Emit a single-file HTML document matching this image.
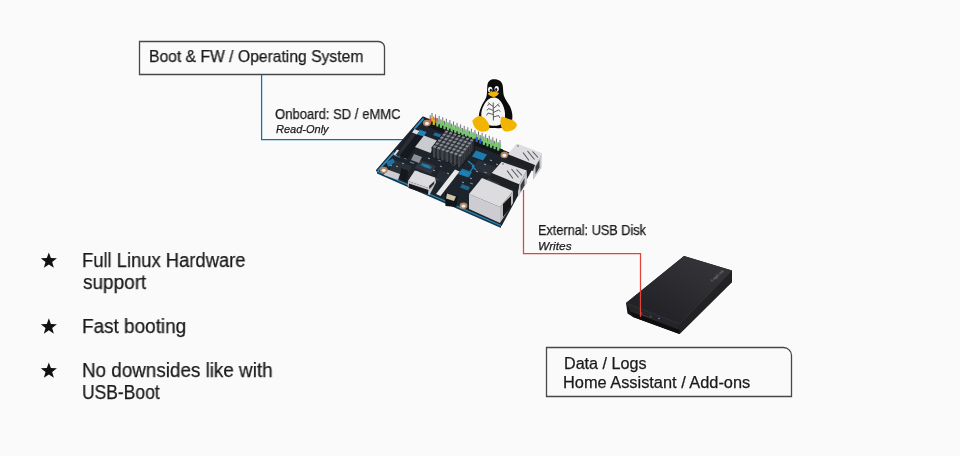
<!DOCTYPE html>
<html><head><meta charset="utf-8">
<style>
html,body{margin:0;padding:0;}
body{width:960px;height:456px;background:#fafafa;position:relative;overflow:hidden;font-family:"Liberation Sans",sans-serif;color:#1a1a1a;}
.t{position:absolute;white-space:nowrap;line-height:1;transform-origin:0 0;will-change:transform;-webkit-text-stroke:0.25px #1a1a1a;}
svg.ov{position:absolute;left:0;top:0;}
</style></head><body>
<svg class="ov" width="960" height="456" viewBox="0 0 960 456">
  <path d="M139.5 41.5 H378.5 A6 6 0 0 1 384.5 47.5 V74.5 H139.5 Z" fill="none" stroke="#474747" stroke-width="1.3"/>
  <path d="M546.5 347.5 H783.5 A8 8 0 0 1 791.5 355.5 V396.5 H546.5 Z" fill="none" stroke="#474747" stroke-width="1.3"/>
  <path d="M261.6 74.5 V139.5 H405.5" fill="none" stroke="#0b6fbd" stroke-width="1.25"/>
  
<g id="board">
  <!-- pcb thickness -->
  <polygon points="377,170.5 501,225 501,228 377,173.5" fill="#16384e"/>
  <!-- pcb top -->
  <polygon points="423,117.5 534,164 501,225 377,170.5" fill="#1e242b" stroke="#1e242b" stroke-width="2" stroke-linejoin="round"/>
  <polygon points="423,117.5 413.5,128.5 415,129.5 424,119.5" fill="#2a8cc0"/>
  <polygon points="393.5,152 377,170.5 378.5,171.2 395,153" fill="#2a8cc0"/>
  <polygon points="377,170.5 501,225 501,226.3 377,171.8" fill="#2a8cc0"/>
  <!-- textures -->
  <polygon points="395,160 412,166 406,176 389,170" fill="#2a3038"/>
  <polygon points="420,160 436,166 431,174 415,168" fill="#30363e"/>
  <polygon points="440,170 456,176 450,186 434,180" fill="#262c33"/>
  <polygon points="478,160 496,167 490,176 472,169" fill="#2b3038"/>
  <polygon points="488,178 500,183 496,190 484,185" fill="#353a42"/>
  <!-- blue trace patches -->
  <polygon points="419,129.5 426.5,132 424,136.5 417.5,134.5" fill="#1f84bb"/>
  <polygon points="435,132.5 442.5,135 440,137.5 433,135" fill="#1f84bb" opacity="0.8"/>
  <polygon points="476,150.5 487,154.5 483,160.5 472,156.5" fill="#1f84bb" opacity="0.9"/>
  <path d="M468,161 L474,166 L470,172 M472,166 L476,170" stroke="#1f84bb" stroke-width="1.3" fill="none"/>
  <polygon points="461,170 470,173 467,177 458,174" fill="#1f84bb" opacity="0.8"/>
  <polygon points="425,164.5 432,167 430,169 423,166.5" fill="#1f84bb" opacity="0.8"/>
    <path d="M404,158 l3,1 M410,162 l4,1.5 M416,171 l3,1 M438,160 l3,1 M452,164 l3,1.2 M484,172 l3,1 M480,180 l3,1 M470,183 l3,1" stroke="#7a8088" stroke-width="1.2"/>
  <path d="M390,165 l2,0.8 M396,166 l2,0.8 M402,163 l2,0.8 M428,158 l2,.8 M433,170 l2,.8 M440,166 l2,.8 M447,173 l2,.8 M452,178 l2,.8 M462,182 l2,.8 M470,178 l2,.8 M476,171 l2,.8 M484,164 l2,.8 M490,160 l2,.8 M496,164 l2,.8 M458,166 l2,.8" stroke="#a0a4aa" stroke-width="1"/>
  <path d="M421,178 l14,5 M425,175 l14,5 M420,181.5 l13,5" stroke="#3a3f47" stroke-width="1.5"/>
  <polygon points="386,162 393,158.5 395,162 388.5,167" fill="#1f84bb" opacity="0.85"/>
  
  <polygon points="422,163 430,165.5 428.5,168 421,165.5" fill="#1f84bb" opacity="0.8"/>
  <polygon points="462,168.5 472,172 469,177.5 459.5,174" fill="#1f84bb" opacity="0.8"/>
  <polygon points="462,184 470,187 468,190.5 460,187.5" fill="#1f84bb" opacity="0.7"/>
  <polygon points="395,153 401,155.5 399.5,158 393.5,155.5" fill="#1f84bb" opacity="0.7"/>
  <!-- SD / left connector -->
  <polygon points="415,128.5 426.5,133.5 407,159 395.5,154" fill="#15181c"/>
  <polygon points="414.5,129 419.5,131 417,134.5 412,132.5" fill="#dcdde0"/>
  <polygon points="397,149.5 400.5,151 397,156 393.5,154.5" fill="#e2e2e4"/>
  <polygon points="412,133 416,134.5 399,156.5 395.5,155" fill="#2a2e34"/>
  <polygon points="420,130 426.5,132.5 423.5,136.5 417.5,134.5" fill="#1f84bb"/>
  <!-- silver chip -->
  <polygon points="424,135.5 437,140.5 430.5,153 415,147" fill="#cacbcf"/>
  <!-- small chip -->
  <polygon points="414,154 422,157 419,163 411,160" fill="#8e9096"/>
  <!-- micro usb -->
  <polygon points="386,169 400,174 398,180 384,175" fill="#cdcdd1"/>
  <polygon points="401,168 408,170.5 407,182 400,179.5" fill="#14171b"/>
  <!-- HDMI -->
  <polygon points="414.8,170.5 435,177.5 436,182.5 430,188.5 408,181" fill="#dcdce0"/>
  <polygon points="408,181 430,188.5 436,182.5 429.5,195 407.7,186.5" fill="#c9c9cd"/>
  <polygon points="409,183.5 428.5,190 428,194.5 408.5,188" fill="#18181c"/>
  <polygon points="429,186 434.5,181 434,184 429.5,189" fill="#2a2a2e"/>
  <!-- camera strip -->
  <polygon points="455,169.5 459.5,171.5 440.5,196 436,194" fill="#e9e9eb"/>
  <!-- audio jack -->
  <polygon points="445,192.5 457.5,196 456.5,207 445.5,206" fill="#121418"/>
  <polygon points="447,193.5 456,196.5 454,201 446,198.5" fill="#cfc3a8"/>
  <!-- header base -->
  <polygon points="429,120.5 503,149.5 501,155.5 425.5,126" fill="#121519"/>
  <line x1="432.00" y1="113.00" x2="432.00" y2="121.50" stroke="#6f737a" stroke-width="1.0"/>
<rect x="430.90" y="116.50" width="2.2" height="4.8" fill="#e8b020"/>
<line x1="435.58" y1="114.42" x2="435.58" y2="122.92" stroke="#6f737a" stroke-width="1.0"/>
<rect x="434.48" y="117.92" width="2.2" height="4.8" fill="#d83a2a"/>
<line x1="439.16" y1="115.84" x2="439.16" y2="124.34" stroke="#6f737a" stroke-width="1.0"/>
<rect x="438.06" y="119.34" width="2.2" height="4.8" fill="#74c86a"/>
<line x1="442.74" y1="117.26" x2="442.74" y2="125.76" stroke="#6f737a" stroke-width="1.0"/>
<rect x="441.64" y="120.76" width="2.2" height="4.8" fill="#74c86a"/>
<line x1="446.32" y1="118.68" x2="446.32" y2="127.18" stroke="#6f737a" stroke-width="1.0"/>
<rect x="445.22" y="122.18" width="2.2" height="4.8" fill="#74c86a"/>
<line x1="449.89" y1="120.11" x2="449.89" y2="128.61" stroke="#6f737a" stroke-width="1.0"/>
<rect x="448.79" y="123.61" width="2.2" height="4.8" fill="#74c86a"/>
<line x1="453.47" y1="121.53" x2="453.47" y2="130.03" stroke="#6f737a" stroke-width="1.0"/>
<rect x="452.37" y="125.03" width="2.2" height="4.8" fill="#74c86a"/>
<line x1="457.05" y1="122.95" x2="457.05" y2="131.45" stroke="#6f737a" stroke-width="1.0"/>
<rect x="455.95" y="126.45" width="2.2" height="4.8" fill="#74c86a"/>
<line x1="460.63" y1="124.37" x2="460.63" y2="132.87" stroke="#6f737a" stroke-width="1.0"/>
<rect x="459.53" y="127.87" width="2.2" height="4.8" fill="#74c86a"/>
<line x1="464.21" y1="125.79" x2="464.21" y2="134.29" stroke="#6f737a" stroke-width="1.0"/>
<rect x="463.11" y="129.29" width="2.2" height="4.8" fill="#74c86a"/>
<line x1="467.79" y1="127.21" x2="467.79" y2="135.71" stroke="#6f737a" stroke-width="1.0"/>
<rect x="466.69" y="130.71" width="2.2" height="4.8" fill="#74c86a"/>
<line x1="471.37" y1="128.63" x2="471.37" y2="137.13" stroke="#6f737a" stroke-width="1.0"/>
<rect x="470.27" y="132.13" width="2.2" height="4.8" fill="#74c86a"/>
<line x1="474.95" y1="130.05" x2="474.95" y2="138.55" stroke="#6f737a" stroke-width="1.0"/>
<rect x="473.85" y="133.55" width="2.2" height="4.8" fill="#74c86a"/>
<line x1="478.53" y1="131.47" x2="478.53" y2="139.97" stroke="#6f737a" stroke-width="1.0"/>
<rect x="477.43" y="134.97" width="2.2" height="4.8" fill="#74c86a"/>
<line x1="482.11" y1="132.89" x2="482.11" y2="141.39" stroke="#6f737a" stroke-width="1.0"/>
<rect x="481.01" y="136.39" width="2.2" height="4.8" fill="#74c86a"/>
<line x1="485.68" y1="134.32" x2="485.68" y2="142.82" stroke="#6f737a" stroke-width="1.0"/>
<rect x="484.58" y="137.82" width="2.2" height="4.8" fill="#74c86a"/>
<line x1="489.26" y1="135.74" x2="489.26" y2="144.24" stroke="#6f737a" stroke-width="1.0"/>
<rect x="488.16" y="139.24" width="2.2" height="4.8" fill="#74c86a"/>
<line x1="492.84" y1="137.16" x2="492.84" y2="145.66" stroke="#6f737a" stroke-width="1.0"/>
<rect x="491.74" y="140.66" width="2.2" height="4.8" fill="#74c86a"/>
<line x1="496.42" y1="138.58" x2="496.42" y2="147.08" stroke="#6f737a" stroke-width="1.0"/>
<rect x="495.32" y="142.08" width="2.2" height="4.8" fill="#74c86a"/>
<line x1="500.00" y1="140.00" x2="500.00" y2="148.50" stroke="#6f737a" stroke-width="1.0"/>
<rect x="498.90" y="143.50" width="2.2" height="4.8" fill="#74c86a"/>
<line x1="430.20" y1="115.20" x2="430.20" y2="123.70" stroke="#6f737a" stroke-width="1.0"/>
<rect x="429.10" y="118.70" width="2.2" height="4.8" fill="#d83a2a"/>
<line x1="433.78" y1="116.62" x2="433.78" y2="125.12" stroke="#6f737a" stroke-width="1.0"/>
<rect x="432.68" y="120.12" width="2.2" height="4.8" fill="#e8b020"/>
<line x1="437.36" y1="118.04" x2="437.36" y2="126.54" stroke="#6f737a" stroke-width="1.0"/>
<rect x="436.26" y="121.54" width="2.2" height="4.8" fill="#74c86a"/>
<line x1="440.94" y1="119.46" x2="440.94" y2="127.96" stroke="#6f737a" stroke-width="1.0"/>
<rect x="439.84" y="122.96" width="2.2" height="4.8" fill="#74c86a"/>
<line x1="444.52" y1="120.88" x2="444.52" y2="129.38" stroke="#6f737a" stroke-width="1.0"/>
<rect x="443.42" y="124.38" width="2.2" height="4.8" fill="#74c86a"/>
<line x1="448.09" y1="122.31" x2="448.09" y2="130.81" stroke="#6f737a" stroke-width="1.0"/>
<rect x="446.99" y="125.81" width="2.2" height="4.8" fill="#74c86a"/>
<line x1="451.67" y1="123.73" x2="451.67" y2="132.23" stroke="#6f737a" stroke-width="1.0"/>
<rect x="450.57" y="127.23" width="2.2" height="4.8" fill="#74c86a"/>
<line x1="455.25" y1="125.15" x2="455.25" y2="133.65" stroke="#6f737a" stroke-width="1.0"/>
<rect x="454.15" y="128.65" width="2.2" height="4.8" fill="#74c86a"/>
<line x1="458.83" y1="126.57" x2="458.83" y2="135.07" stroke="#6f737a" stroke-width="1.0"/>
<rect x="457.73" y="130.07" width="2.2" height="4.8" fill="#74c86a"/>
<line x1="462.41" y1="127.99" x2="462.41" y2="136.49" stroke="#6f737a" stroke-width="1.0"/>
<rect x="461.31" y="131.49" width="2.2" height="4.8" fill="#74c86a"/>
<line x1="465.99" y1="129.41" x2="465.99" y2="137.91" stroke="#6f737a" stroke-width="1.0"/>
<rect x="464.89" y="132.91" width="2.2" height="4.8" fill="#74c86a"/>
<line x1="469.57" y1="130.83" x2="469.57" y2="139.33" stroke="#6f737a" stroke-width="1.0"/>
<rect x="468.47" y="134.33" width="2.2" height="4.8" fill="#74c86a"/>
<line x1="473.15" y1="132.25" x2="473.15" y2="140.75" stroke="#6f737a" stroke-width="1.0"/>
<rect x="472.05" y="135.75" width="2.2" height="4.8" fill="#74c86a"/>
<line x1="476.73" y1="133.67" x2="476.73" y2="142.17" stroke="#6f737a" stroke-width="1.0"/>
<rect x="475.63" y="137.17" width="2.2" height="4.8" fill="#2a5bd0"/>
<line x1="480.31" y1="135.09" x2="480.31" y2="143.59" stroke="#6f737a" stroke-width="1.0"/>
<rect x="479.21" y="138.59" width="2.2" height="4.8" fill="#2a5bd0"/>
<line x1="483.88" y1="136.52" x2="483.88" y2="145.02" stroke="#6f737a" stroke-width="1.0"/>
<rect x="482.78" y="140.02" width="2.2" height="4.8" fill="#74c86a"/>
<line x1="487.46" y1="137.94" x2="487.46" y2="146.44" stroke="#6f737a" stroke-width="1.0"/>
<rect x="486.36" y="141.44" width="2.2" height="4.8" fill="#74c86a"/>
<line x1="491.04" y1="139.36" x2="491.04" y2="147.86" stroke="#6f737a" stroke-width="1.0"/>
<rect x="489.94" y="142.86" width="2.2" height="4.8" fill="#74c86a"/>
<line x1="494.62" y1="140.78" x2="494.62" y2="149.28" stroke="#6f737a" stroke-width="1.0"/>
<rect x="493.52" y="144.28" width="2.2" height="4.8" fill="#74c86a"/>
<line x1="498.20" y1="142.20" x2="498.20" y2="150.70" stroke="#6f737a" stroke-width="1.0"/>
<rect x="497.10" y="145.70" width="2.2" height="4.8" fill="#74c86a"/>
  <!-- heatsink -->
  <polygon points="445.5,129.5 475.0,139.5 475.0,149.5 461.5,167.5 432.0,157.5 431.5,147.5" fill="#16181c"/>
<polygon points="444.41,132.20 447.02,133.09 447.02,137.09 444.41,136.20" fill="#41454c"/>
<polygon points="448.47,131.23 447.02,133.09 447.02,137.09 448.47,135.23" fill="#2d3036"/>
<polygon points="445.86,130.34 448.47,131.23 447.02,133.09 444.41,132.20" fill="#878b93"/>
<polygon points="448.62,133.63 451.24,134.52 451.24,138.52 448.62,137.63" fill="#41454c"/>
<polygon points="452.68,132.66 451.24,134.52 451.24,138.52 452.68,136.66" fill="#2d3036"/>
<polygon points="450.07,131.77 452.68,132.66 451.24,134.52 448.62,133.63" fill="#878b93"/>
<polygon points="452.84,135.06 455.45,135.94 455.45,139.94 452.84,139.06" fill="#41454c"/>
<polygon points="456.90,134.08 455.45,135.94 455.45,139.94 456.90,138.08" fill="#2d3036"/>
<polygon points="454.29,133.20 456.90,134.08 455.45,135.94 452.84,135.06" fill="#878b93"/>
<polygon points="457.05,136.49 459.67,137.37 459.67,141.37 457.05,140.49" fill="#41454c"/>
<polygon points="461.11,135.51 459.67,137.37 459.67,141.37 461.11,139.51" fill="#2d3036"/>
<polygon points="458.50,134.63 461.11,135.51 459.67,137.37 457.05,136.49" fill="#878b93"/>
<polygon points="461.27,137.92 463.88,138.80 463.88,142.80 461.27,141.92" fill="#41454c"/>
<polygon points="465.33,136.94 463.88,138.80 463.88,142.80 465.33,140.94" fill="#2d3036"/>
<polygon points="462.71,136.06 465.33,136.94 463.88,138.80 461.27,137.92" fill="#878b93"/>
<polygon points="465.48,139.34 468.09,140.23 468.09,144.23 465.48,143.34" fill="#41454c"/>
<polygon points="469.54,138.37 468.09,140.23 468.09,144.23 469.54,142.37" fill="#2d3036"/>
<polygon points="466.93,137.48 469.54,138.37 468.09,140.23 465.48,139.34" fill="#878b93"/>
<polygon points="469.70,140.77 472.31,141.66 472.31,151.66 469.70,150.77" fill="#41454c"/>
<polygon points="473.76,139.80 472.31,141.66 472.31,151.66 473.76,149.80" fill="#2d3036"/>
<polygon points="471.14,138.91 473.76,139.80 472.31,141.66 469.70,140.77" fill="#878b93"/>
<polygon points="442.08,135.20 444.69,136.09 444.69,140.09 442.08,139.20" fill="#41454c"/>
<polygon points="446.14,134.23 444.69,136.09 444.69,140.09 446.14,138.23" fill="#2d3036"/>
<polygon points="443.52,133.34 446.14,134.23 444.69,136.09 442.08,135.20" fill="#878b93"/>
<polygon points="446.29,136.63 448.90,137.52 448.90,141.52 446.29,140.63" fill="#41454c"/>
<polygon points="450.35,135.66 448.90,137.52 448.90,141.52 450.35,139.66" fill="#2d3036"/>
<polygon points="447.74,134.77 450.35,135.66 448.90,137.52 446.29,136.63" fill="#878b93"/>
<polygon points="450.51,138.06 453.12,138.94 453.12,142.94 450.51,142.06" fill="#41454c"/>
<polygon points="454.57,137.08 453.12,138.94 453.12,142.94 454.57,141.08" fill="#2d3036"/>
<polygon points="451.95,136.20 454.57,137.08 453.12,138.94 450.51,138.06" fill="#878b93"/>
<polygon points="454.72,139.49 457.33,140.37 457.33,144.37 454.72,143.49" fill="#41454c"/>
<polygon points="458.78,138.51 457.33,140.37 457.33,144.37 458.78,142.51" fill="#2d3036"/>
<polygon points="456.17,137.63 458.78,138.51 457.33,140.37 454.72,139.49" fill="#878b93"/>
<polygon points="458.93,140.92 461.55,141.80 461.55,145.80 458.93,144.92" fill="#41454c"/>
<polygon points="462.99,139.94 461.55,141.80 461.55,145.80 462.99,143.94" fill="#2d3036"/>
<polygon points="460.38,139.06 462.99,139.94 461.55,141.80 458.93,140.92" fill="#878b93"/>
<polygon points="463.15,142.34 465.76,143.23 465.76,147.23 463.15,146.34" fill="#41454c"/>
<polygon points="467.21,141.37 465.76,143.23 465.76,147.23 467.21,145.37" fill="#2d3036"/>
<polygon points="464.60,140.48 467.21,141.37 465.76,143.23 463.15,142.34" fill="#878b93"/>
<polygon points="467.36,143.77 469.98,144.66 469.98,154.66 467.36,153.77" fill="#41454c"/>
<polygon points="471.42,142.80 469.98,144.66 469.98,154.66 471.42,152.80" fill="#2d3036"/>
<polygon points="468.81,141.91 471.42,142.80 469.98,144.66 467.36,143.77" fill="#878b93"/>
<polygon points="439.74,138.20 442.36,139.09 442.36,143.09 439.74,142.20" fill="#41454c"/>
<polygon points="443.80,137.23 442.36,139.09 442.36,143.09 443.80,141.23" fill="#2d3036"/>
<polygon points="441.19,136.34 443.80,137.23 442.36,139.09 439.74,138.20" fill="#878b93"/>
<polygon points="443.96,139.63 446.57,140.52 446.57,144.52 443.96,143.63" fill="#41454c"/>
<polygon points="448.02,138.66 446.57,140.52 446.57,144.52 448.02,142.66" fill="#2d3036"/>
<polygon points="445.40,137.77 448.02,138.66 446.57,140.52 443.96,139.63" fill="#878b93"/>
<polygon points="448.17,141.06 450.79,141.94 450.79,145.94 448.17,145.06" fill="#41454c"/>
<polygon points="452.23,140.08 450.79,141.94 450.79,145.94 452.23,144.08" fill="#2d3036"/>
<polygon points="449.62,139.20 452.23,140.08 450.79,141.94 448.17,141.06" fill="#878b93"/>
<polygon points="452.39,142.49 455.00,143.37 455.00,147.37 452.39,146.49" fill="#41454c"/>
<polygon points="456.45,141.51 455.00,143.37 455.00,147.37 456.45,145.51" fill="#2d3036"/>
<polygon points="453.83,140.63 456.45,141.51 455.00,143.37 452.39,142.49" fill="#878b93"/>
<polygon points="456.60,143.92 459.21,144.80 459.21,148.80 456.60,147.92" fill="#41454c"/>
<polygon points="460.66,142.94 459.21,144.80 459.21,148.80 460.66,146.94" fill="#2d3036"/>
<polygon points="458.05,142.06 460.66,142.94 459.21,144.80 456.60,143.92" fill="#878b93"/>
<polygon points="460.82,145.34 463.43,146.23 463.43,150.23 460.82,149.34" fill="#41454c"/>
<polygon points="464.87,144.37 463.43,146.23 463.43,150.23 464.87,148.37" fill="#2d3036"/>
<polygon points="462.26,143.48 464.87,144.37 463.43,146.23 460.82,145.34" fill="#878b93"/>
<polygon points="465.03,146.77 467.64,147.66 467.64,157.66 465.03,156.77" fill="#41454c"/>
<polygon points="469.09,145.80 467.64,147.66 467.64,157.66 469.09,155.80" fill="#2d3036"/>
<polygon points="466.48,144.91 469.09,145.80 467.64,147.66 465.03,146.77" fill="#878b93"/>
<polygon points="437.41,141.20 440.02,142.09 440.02,146.09 437.41,145.20" fill="#41454c"/>
<polygon points="441.47,140.23 440.02,142.09 440.02,146.09 441.47,144.23" fill="#2d3036"/>
<polygon points="438.86,139.34 441.47,140.23 440.02,142.09 437.41,141.20" fill="#878b93"/>
<polygon points="441.62,142.63 444.24,143.52 444.24,147.52 441.62,146.63" fill="#41454c"/>
<polygon points="445.68,141.66 444.24,143.52 444.24,147.52 445.68,145.66" fill="#2d3036"/>
<polygon points="443.07,140.77 445.68,141.66 444.24,143.52 441.62,142.63" fill="#878b93"/>
<polygon points="445.84,144.06 448.45,144.94 448.45,148.94 445.84,148.06" fill="#41454c"/>
<polygon points="449.90,143.08 448.45,144.94 448.45,148.94 449.90,147.08" fill="#2d3036"/>
<polygon points="447.29,142.20 449.90,143.08 448.45,144.94 445.84,144.06" fill="#878b93"/>
<polygon points="450.05,145.49 452.67,146.37 452.67,150.37 450.05,149.49" fill="#41454c"/>
<polygon points="454.11,144.51 452.67,146.37 452.67,150.37 454.11,148.51" fill="#2d3036"/>
<polygon points="451.50,143.63 454.11,144.51 452.67,146.37 450.05,145.49" fill="#878b93"/>
<polygon points="454.27,146.92 456.88,147.80 456.88,151.80 454.27,150.92" fill="#41454c"/>
<polygon points="458.33,145.94 456.88,147.80 456.88,151.80 458.33,149.94" fill="#2d3036"/>
<polygon points="455.71,145.06 458.33,145.94 456.88,147.80 454.27,146.92" fill="#878b93"/>
<polygon points="458.48,148.34 461.09,149.23 461.09,153.23 458.48,152.34" fill="#41454c"/>
<polygon points="462.54,147.37 461.09,149.23 461.09,153.23 462.54,151.37" fill="#2d3036"/>
<polygon points="459.93,146.48 462.54,147.37 461.09,149.23 458.48,148.34" fill="#878b93"/>
<polygon points="462.70,149.77 465.31,150.66 465.31,160.66 462.70,159.77" fill="#41454c"/>
<polygon points="466.76,148.80 465.31,150.66 465.31,160.66 466.76,158.80" fill="#2d3036"/>
<polygon points="464.14,147.91 466.76,148.80 465.31,150.66 462.70,149.77" fill="#878b93"/>
<polygon points="435.08,144.20 437.69,145.09 437.69,149.09 435.08,148.20" fill="#41454c"/>
<polygon points="439.14,143.23 437.69,145.09 437.69,149.09 439.14,147.23" fill="#2d3036"/>
<polygon points="436.52,142.34 439.14,143.23 437.69,145.09 435.08,144.20" fill="#878b93"/>
<polygon points="439.29,145.63 441.90,146.52 441.90,150.52 439.29,149.63" fill="#41454c"/>
<polygon points="443.35,144.66 441.90,146.52 441.90,150.52 443.35,148.66" fill="#2d3036"/>
<polygon points="440.74,143.77 443.35,144.66 441.90,146.52 439.29,145.63" fill="#878b93"/>
<polygon points="443.51,147.06 446.12,147.94 446.12,151.94 443.51,151.06" fill="#41454c"/>
<polygon points="447.57,146.08 446.12,147.94 446.12,151.94 447.57,150.08" fill="#2d3036"/>
<polygon points="444.95,145.20 447.57,146.08 446.12,147.94 443.51,147.06" fill="#878b93"/>
<polygon points="447.72,148.49 450.33,149.37 450.33,153.37 447.72,152.49" fill="#41454c"/>
<polygon points="451.78,147.51 450.33,149.37 450.33,153.37 451.78,151.51" fill="#2d3036"/>
<polygon points="449.17,146.63 451.78,147.51 450.33,149.37 447.72,148.49" fill="#878b93"/>
<polygon points="451.93,149.92 454.55,150.80 454.55,154.80 451.93,153.92" fill="#41454c"/>
<polygon points="455.99,148.94 454.55,150.80 454.55,154.80 455.99,152.94" fill="#2d3036"/>
<polygon points="453.38,148.06 455.99,148.94 454.55,150.80 451.93,149.92" fill="#878b93"/>
<polygon points="456.15,151.34 458.76,152.23 458.76,156.23 456.15,155.34" fill="#41454c"/>
<polygon points="460.21,150.37 458.76,152.23 458.76,156.23 460.21,154.37" fill="#2d3036"/>
<polygon points="457.60,149.48 460.21,150.37 458.76,152.23 456.15,151.34" fill="#878b93"/>
<polygon points="460.36,152.77 462.98,153.66 462.98,163.66 460.36,162.77" fill="#41454c"/>
<polygon points="464.42,151.80 462.98,153.66 462.98,163.66 464.42,161.80" fill="#2d3036"/>
<polygon points="461.81,150.91 464.42,151.80 462.98,153.66 460.36,152.77" fill="#878b93"/>
<polygon points="432.74,147.20 435.36,148.09 435.36,158.09 432.74,157.20" fill="#41454c"/>
<polygon points="436.80,146.23 435.36,148.09 435.36,158.09 436.80,156.23" fill="#2d3036"/>
<polygon points="434.19,145.34 436.80,146.23 435.36,148.09 432.74,147.20" fill="#878b93"/>
<polygon points="436.96,148.63 439.57,149.52 439.57,159.52 436.96,158.63" fill="#41454c"/>
<polygon points="441.02,147.66 439.57,149.52 439.57,159.52 441.02,157.66" fill="#2d3036"/>
<polygon points="438.40,146.77 441.02,147.66 439.57,149.52 436.96,148.63" fill="#878b93"/>
<polygon points="441.17,150.06 443.79,150.94 443.79,160.94 441.17,160.06" fill="#41454c"/>
<polygon points="445.23,149.08 443.79,150.94 443.79,160.94 445.23,159.08" fill="#2d3036"/>
<polygon points="442.62,148.20 445.23,149.08 443.79,150.94 441.17,150.06" fill="#878b93"/>
<polygon points="445.39,151.49 448.00,152.37 448.00,162.37 445.39,161.49" fill="#41454c"/>
<polygon points="449.45,150.51 448.00,152.37 448.00,162.37 449.45,160.51" fill="#2d3036"/>
<polygon points="446.83,149.63 449.45,150.51 448.00,152.37 445.39,151.49" fill="#878b93"/>
<polygon points="449.60,152.92 452.21,153.80 452.21,163.80 449.60,162.92" fill="#41454c"/>
<polygon points="453.66,151.94 452.21,153.80 452.21,163.80 453.66,161.94" fill="#2d3036"/>
<polygon points="451.05,151.06 453.66,151.94 452.21,153.80 449.60,152.92" fill="#878b93"/>
<polygon points="453.82,154.34 456.43,155.23 456.43,165.23 453.82,164.34" fill="#41454c"/>
<polygon points="457.87,153.37 456.43,155.23 456.43,165.23 457.87,163.37" fill="#2d3036"/>
<polygon points="455.26,152.48 457.87,153.37 456.43,155.23 453.82,154.34" fill="#878b93"/>
<polygon points="458.03,155.77 460.64,156.66 460.64,166.66 458.03,165.77" fill="#41454c"/>
<polygon points="462.09,154.80 460.64,156.66 460.64,166.66 462.09,164.80" fill="#2d3036"/>
<polygon points="459.48,153.91 462.09,154.80 460.64,156.66 458.03,155.77" fill="#878b93"/>
  <!-- holes -->
  <ellipse cx="426.9" cy="123.1" rx="3.9" ry="3.3" fill="#b08462"/><ellipse cx="426.9" cy="123.39999999999999" rx="2.0" ry="1.6" fill="#eeeeee"/>
  <ellipse cx="383.8" cy="170" rx="3.9" ry="3.3" fill="#b08462"/><ellipse cx="383.8" cy="170.3" rx="2.0" ry="1.6" fill="#eeeeee"/>
  <ellipse cx="463.5" cy="205.7" rx="3.9" ry="3.3" fill="#b08462"/><ellipse cx="463.5" cy="206.0" rx="2.0" ry="1.6" fill="#eeeeee"/>
  <ellipse cx="504.4" cy="155" rx="3.9" ry="3.3" fill="#b08462"/><ellipse cx="504.4" cy="155.3" rx="2.0" ry="1.6" fill="#eeeeee"/>
  <!-- USB upper -->
  <polygon points="541.75,153 535,165 533,171 533,180 541.5,168" fill="#c6c7cc"/>
  <polygon points="539.5,160 535.5,166.5 535.5,174 539.5,167.5" fill="#3a3c42"/>
  <polygon points="508,154.3 535,165 533,171 507,160" fill="#1e2024"/>
  <polygon points="516.75,143.6 541.75,153 535,165 508,154.3" fill="#dddde1"/>
  <path d="M523,152.5 L529,160.5 M527.5,151 L534.5,159.5 M532.5,151.5 L538,157.5" stroke="#55575d" stroke-width="1.1"/>
  <circle cx="518" cy="146" r="0.7" fill="#444"/>
  <!-- USB lower -->
  <polygon points="526.75,170.5 519.25,184.25 518,191 518,197 527,183" fill="#c6c7cc"/>
  <polygon points="524.5,178 520.5,185 520.5,192 524.5,185.5" fill="#3a3c42"/>
  <polygon points="491.75,173 519.25,184.25 518,191 490.5,180" fill="#1e2024"/>
  <polygon points="501.75,161.75 526.75,170.5 519.25,184.25 491.75,173" fill="#dddde1"/>
  <path d="M507,170.5 L513,178.5 M511.5,169 L518.5,177.5 M516.5,169.5 L522,175.5" stroke="#55575d" stroke-width="1.1"/>
  <circle cx="503" cy="164" r="0.7" fill="#444"/>
  <!-- Ethernet -->
  <polygon points="469,194 500,207 500,223 469,209" fill="#cdcdd1"/>
  <polygon points="500,207 513,191 513,203 500,223" fill="#bcbcc0"/>
  <polygon points="482,178 513,191 500,207 469,194" fill="#dcdcdf"/>
  <polygon points="503,204 511,196 511,207 503,217" fill="#17171a"/>
</g>
  
<g id="tux">
  <path d="M494,79.2 C498,79.2 501.5,80.8 502.6,85 C503.3,89 503,92 503.8,95.5 C505,99.5 508,102.5 510,106.5 C512,110.5 512.8,115 512.2,119.5 C511.6,124 509,127 505,127.8 C501,128.3 497,128.2 493.4,128.1 C489,128 485,127.5 482.5,125.5 C479.5,123 478.4,119.5 478.8,116 C479.2,112 480.3,108.5 482,105 C483.5,102 485.8,99.5 486.6,96 C487.3,92.5 487,88.5 487.4,85 C488,81.2 490.5,79.2 494,79.2 Z" fill="#0c0c0c"/>
  <path d="M493.6,97.4 C497.5,97.4 500.5,100 502.6,104.5 C504.5,108.5 505.3,112.5 505,116.5 C504.6,121 502,124.5 498,125.5 C495.5,126 492,126 489.5,125.2 C485.5,124 482.3,121 481.4,116.5 C480.8,112.5 482,108.5 484.2,104.5 C486.5,100.3 489.5,97.4 493.6,97.4 Z" fill="#f6f6f6"/>
  <ellipse cx="490.2" cy="89.6" rx="2.2" ry="2.9" fill="#f3f3f3"/>
  <ellipse cx="496.7" cy="88.8" rx="2.2" ry="2.9" fill="#f3f3f3"/>
  <ellipse cx="490.8" cy="90.3" rx="1.1" ry="1.5" fill="#1a1a1a"/>
  <ellipse cx="496.2" cy="89.6" rx="1.1" ry="1.5" fill="#1a1a1a"/>
  <path d="M487.7,93.8 C489.5,92.2 491.5,91.5 493.4,91.4 C495.5,91.4 497.8,92 499.1,93.2 C498,95 496,96.8 494,97 C491.8,97 489,95.5 487.7,93.8 Z" fill="#f1b400"/>
  <path d="M493.4,120.5 L493.2,102.5 M493.3,106.5 L489.5,104 L488.5,102.5 M489.5,104 L487.3,105.5 M493.3,110.5 L488.5,108.5 L487,110.5 M493.3,114.5 L488,113 L486.5,115.5 M493.3,108.5 L497.5,105 L499,103.5 M497.5,105 L499.8,106.5 M493.3,112.5 L498.5,110 L500.5,111.5 M493.3,117 L498.5,115.5 L500,118" stroke="#333" stroke-width="0.8" fill="none"/>
  <path d="M472.4,120.5 C474.5,118 477,116.2 479.4,116 C481.5,116 483.2,116.8 484.5,118 C486.3,120 488,122 489,124.5 C489.8,126.8 489.5,129.5 487.5,130.8 C485.5,131.8 482.5,132 480.5,131.5 C478.3,130.8 476.3,129.5 475,127.8 C473.5,125.6 472.3,122.5 472.4,120.5 Z" fill="#f1b400"/>
  <path d="M501.7,116.7 C503.5,116.5 505,117.3 506.1,118 C508,118.8 510,119 511.8,119.8 C514,120.8 516,122.5 516.9,124.3 C516.8,126.5 515.6,128.5 513.7,129.6 C511.5,130.9 508.5,131.6 506.1,131.6 C504,131.5 502.5,129.8 501.7,127.8 C500.8,125.8 500.3,123.5 500.4,121.7 C500.5,119.8 500.8,117.8 501.7,116.7 Z" fill="#f1b400"/>
</g>
  
<defs>
  <linearGradient id="dtop" x1="684" y1="256" x2="650" y2="315" gradientUnits="userSpaceOnUse">
    <stop offset="0" stop-color="#333337"/>
    <stop offset="1" stop-color="#222226"/>
  </linearGradient>
</defs>
<g id="disk">
  <polygon points="684,256 732,270.5 732,282 679.5,334 633,317 627.5,313.5 626,303" fill="#141416"/>
  <polygon points="626,303 679.5,323.5 679.5,330 631,312" fill="#252528"/>
  <polygon points="631,312 679.5,330 679.5,334 633,317" fill="#0e0e10"/>
  <polygon points="679.5,323.5 732,270.5 732,282 679.5,334" fill="#222225"/>
  <polygon points="684,256 732,270.5 679.5,323.5 626,303" fill="url(#dtop)"/>
  <path d="M626.5,303.3 L679.5,323.8 L731.5,271" stroke="#3a3a3e" stroke-width="0.7" fill="none"/>
  <polygon points="641,312 651.5,315.5 651.5,318 641,314.5" fill="#4a4a4e"/>
  <polygon points="642.3,312.8 650.3,315.5 650.2,316.8 642.2,314.1" fill="#141416"/>
  <circle cx="659" cy="318.5" r="0.8" fill="#6a90d0"/>
  <text x="0" y="0" transform="translate(712,282) rotate(-41)" font-family="Liberation Sans" font-size="4.3" fill="#88888c" style="will-change:transform">LogiLink</text>
</g>
  <path d="M523.5 190 V253.5 H640.5 V317" fill="none" stroke="#e0443a" stroke-width="1.25"/>
  <polygon points="48.85,252.40 50.91,258.07 56.93,258.27 52.18,261.98 53.85,267.78 48.85,264.40 43.85,267.78 45.52,261.98 40.77,258.27 46.79,258.07" fill="#111"/>
  <polygon points="48.85,318.30 50.91,323.97 56.93,324.17 52.18,327.88 53.85,333.68 48.85,330.30 43.85,333.68 45.52,327.88 40.77,324.17 46.79,323.97" fill="#111"/>
  <polygon points="48.85,362.40 50.91,368.07 56.93,368.27 52.18,371.98 53.85,377.78 48.85,374.40 43.85,377.78 45.52,371.98 40.77,368.27 46.79,368.07" fill="#111"/>
</svg>
<div class="t" style="left:148.75px;top:48.6px;font-size:16px;font-style:normal;transform:scaleX(0.98)">Boot &amp; FW / Operating System</div>
<div class="t" style="left:275.3px;top:107.0px;font-size:14px;font-style:normal;transform:scaleX(0.933)">Onboard: SD / eMMC</div>
<div class="t" style="left:276.0px;top:124px;font-size:11px;font-style:italic;transform:scaleX(1.0)">Read-Only</div>
<div class="t" style="left:537.8px;top:223.2px;font-size:14px;font-style:normal;transform:scaleX(0.907)">External: USB Disk</div>
<div class="t" style="left:538.2px;top:240.6px;font-size:11.5px;font-style:italic;transform:scaleX(1.03)">Writes</div>
<div class="t" style="left:563.75px;top:355.6px;font-size:16px;font-style:normal;transform:scaleX(1.008)">Data / Logs</div>
<div class="t" style="left:563.3px;top:374.8px;font-size:16px;font-style:normal;transform:scaleX(1.022)">Home Assistant / Add-ons</div>
<div class="t" style="left:82.2px;top:251.1px;font-size:19.5px;font-style:normal;transform:scaleX(0.943)">Full Linux Hardware</div>
<div class="t" style="left:83px;top:272.9px;font-size:19.5px;font-style:normal;transform:scaleX(0.973)">support</div>
<div class="t" style="left:82.2px;top:316.7px;font-size:19.5px;font-style:normal;transform:scaleX(0.97)">Fast booting</div>
<div class="t" style="left:82.2px;top:361.1px;font-size:19.5px;font-style:normal;transform:scaleX(0.966)">No downsides like with</div>
<div class="t" style="left:82.3px;top:383px;font-size:19.5px;font-style:normal;transform:scaleX(0.896)">USB-Boot</div>
</body></html>
